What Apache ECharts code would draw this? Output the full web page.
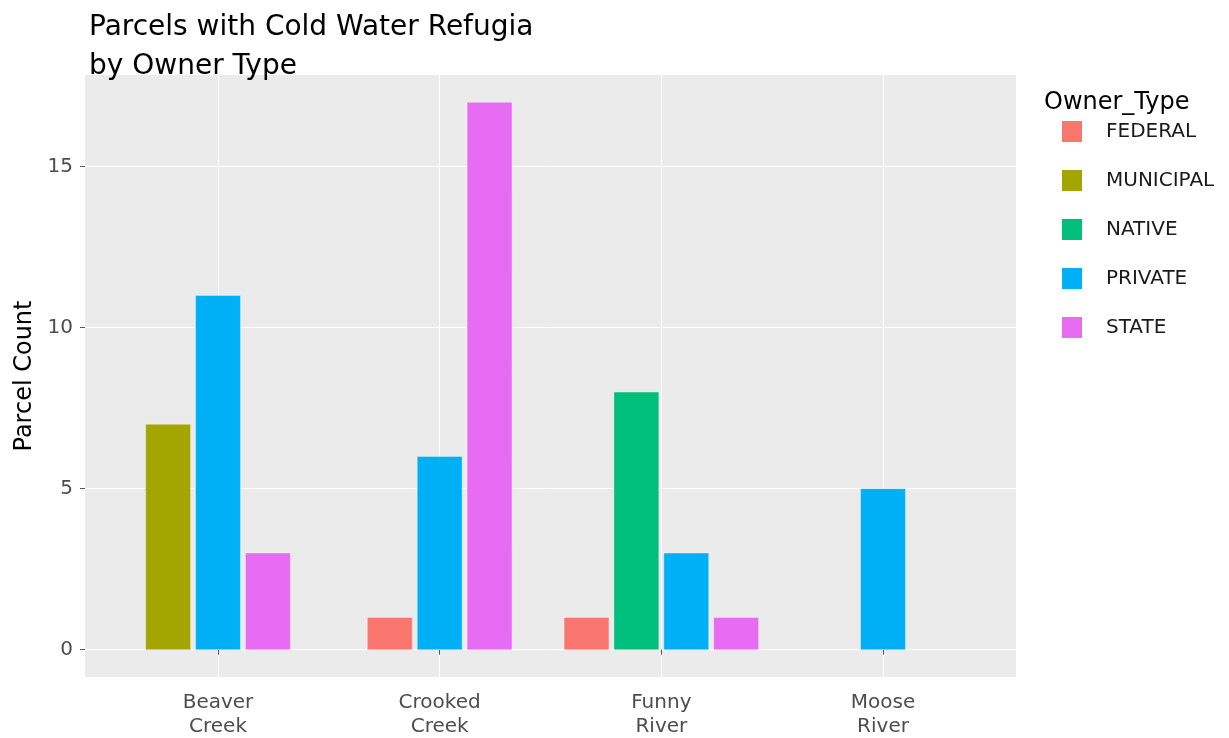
<!DOCTYPE html>
<html>
<head>
<meta charset="utf-8">
<script src="https://cdn.jsdelivr.net/npm/echarts@6/dist/echarts.min.js"></script>
<style>html,body{margin:0;padding:0;background:#fff;}#main{width:1229px;height:738px;}</style>
</head>
<body>
<div id="main"></div>
<script>
const categories = ['Beaver\nCreek', 'Crooked\nCreek', 'Funny\nRiver', 'Moose\nRiver'];
const ownerTypes = ['FEDERAL', 'MUNICIPAL', 'NATIVE', 'PRIVATE', 'STATE'];
const federal   = [null, 1, 1, null];
const municipal = [7, null, null, null];
const native    = [null, null, 8, null];
const privateV  = [11, 6, 3, 5];
const state     = [3, 17, 1, null];
const yTicks = [0, 5, 10, 15];
const colors = ['#F8766D', '#A3A500', '#00BF7D', '#00B0F6', '#E76BF3'];

const seriesValues = [federal, municipal, native, privateV, state];
const FONT = 'DejaVu Sans';
const SLOT = 0.225, BARW = 0.2025;

// dodge2-style positions: bars present in each category centred around it
const seriesData = seriesValues.map(() => []);
categories.forEach((c, ci) => {
  const present = [];
  seriesValues.forEach((vals, si) => { if (vals[ci] != null) present.push(si); });
  const n = present.length;
  present.forEach((si, k) => {
    const xc = ci + 1 + (k - (n - 1) / 2) * SLOT;
    seriesData[si].push([xc, seriesValues[si][ci], BARW]);
  });
});

function makeRender(color) {
  return function (params, api) {
    const x = api.value(0), y = api.value(1), w = api.value(2);
    const p0 = api.coord([x - w / 2, y]);
    const p1 = api.coord([x + w / 2, 0]);
    return {
      type: 'rect',
      shape: { x: p0[0], y: p0[1], width: p1[0] - p0[0], height: p1[1] - p0[1] },
      style: { fill: color, stroke: 'rgba(255,255,255,0.35)', lineWidth: 1 }
    };
  };
}

const chart = echarts.init(document.getElementById('main'), null, { renderer: 'canvas' });
chart.setOption({
  animation: false,
  backgroundColor: '#ffffff',
  textStyle: { fontFamily: FONT },
  title: [
    { text: 'Parcels with Cold Water Refugia\nby Owner Type', left: 84, top: 3,
      textStyle: { fontFamily: FONT, fontSize: 28, fontWeight: 'normal', color: '#000', lineHeight: 39 } },
    { text: 'Owner_Type', left: 1039, top: 86,
      textStyle: { fontFamily: FONT, fontSize: 24, fontWeight: 'normal', color: '#000' } }
  ],
  legend: {
    orient: 'vertical', left: 1057, top: 116,
    itemWidth: 20, itemHeight: 21, itemGap: 28,
    icon: 'rect',
    data: ownerTypes,
    textStyle: { fontFamily: FONT, fontSize: 20, color: '#1a1a1a', padding: [0, 0, 0, 19] },
    selectedMode: false
  },
  grid: { left: 85, right: 213, top: 75, bottom: 61, show: true, backgroundColor: '#EBEBEB', borderWidth: 0,
    containLabel: false, outerBoundsMode: 'none' },
  xAxis: {
    type: 'value', min: 0.4, max: 4.6,
    axisLine: { show: false },
    axisTick: { show: true, customValues: [1, 2, 3, 4], length: 5, lineStyle: { color: '#555555' } },
    axisLabel: { customValues: [1, 2, 3, 4], formatter: v => categories[Math.round(v) - 1],
      fontFamily: FONT, fontSize: 20, color: '#4D4D4D', lineHeight: 24, margin: 14 },
    splitLine: { show: true, lineStyle: { color: '#ffffff', width: 1 } }
  },
  yAxis: {
    type: 'value', min: -0.85, max: 17.85,
    name: 'Parcel Count', nameLocation: 'middle', nameGap: 48,
    nameTextStyle: { fontFamily: FONT, fontSize: 24, color: '#000' },
    axisLine: { show: false },
    axisTick: { show: true, customValues: yTicks, length: 5, lineStyle: { color: '#555555' } },
    axisLabel: { customValues: yTicks, fontFamily: FONT, fontSize: 20, color: '#4D4D4D', margin: 12 },
    splitLine: { show: true, lineStyle: { color: '#ffffff', width: 1 } }
  },
  series: ownerTypes.map((name, si) => ({
    name: name,
    type: 'custom',
    renderItem: makeRender(colors[si]),
    itemStyle: { color: colors[si] },
    encode: { x: 0, y: 1 },
    data: seriesData[si]
  }))
});
</script>
</body>
</html>
